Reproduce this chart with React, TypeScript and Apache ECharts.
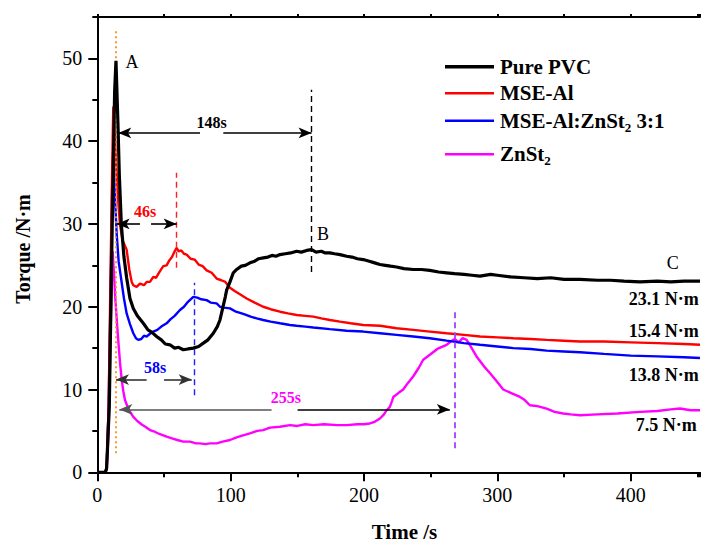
import React, { useEffect, useRef } from "react";
import * as echarts from "echarts";

const SERIF = "'Liberation Serif', 'Times New Roman', Times, serif";

// ---------- data (time /s, torque /N·m) ----------
const seriesNames = ["Pure PVC", "MSE-Al", "MSE-Al:ZnSt2 3:1", "ZnSt2"];

const purePVC: number[][] = [
  [0, 0], [6, 0], [7, 0.5], [9, 8], [11, 28], [13, 46], [14, 49.7], [15.5, 42], [16.5, 36], [18, 30],
  [20, 26], [22, 23.5], [24.5, 21], [27, 19.8], [30, 18.9], [34.5, 18.0], [38, 17.2], [41, 16.9],
  [44.5, 16.4], [48, 16.0], [51, 15.5], [54.5, 15.4], [58, 15.0], [61, 15.1], [64.5, 14.8], [68, 14.9],
  [72, 15.0], [76, 15.2], [79.5, 15.6], [83, 16.0], [87, 16.8], [90, 17.6], [92, 18.4], [94, 19.8],
  [96, 21.2], [97, 22.0], [99.5, 23.0], [102, 24.1], [104.5, 24.5], [108, 24.9], [111, 25.0],
  [114.5, 25.3], [118, 25.5], [121, 25.8], [124.5, 25.9], [128, 26.0], [131, 26.2], [134, 26.1],
  [137, 26.3], [141, 26.4], [145, 26.5], [149.5, 26.7], [153, 26.6], [157, 26.8], [160.7, 26.9],
  [164, 26.6], [168, 26.7], [171, 26.5], [174.4, 26.5], [178, 26.4], [182, 26.3], [187, 26.1],
  [191, 26.0], [195, 25.8], [199.4, 25.7], [204, 25.5], [208, 25.3], [212, 25.1], [216, 25.0],
  [220, 24.9], [224.4, 24.8], [230, 24.6], [237, 24.5], [243, 24.5], [249.4, 24.4], [256, 24.2],
  [262, 24.1], [268, 24.0], [275, 23.9], [281, 23.8], [287, 23.7], [295, 23.9], [300, 23.8],
  [310, 23.6], [320, 23.5], [330, 23.4], [340, 23.5], [350, 23.3], [362, 23.3], [375, 23.2],
  [385, 23.2], [395, 23.1], [407, 23.0], [420, 23.1], [430, 23.0], [440, 23.1], [452, 23.1],
];

const mseAl: number[][] = [
  [0, 0], [6, 0], [7, 0.5], [8.5, 8], [10, 25], [11.5, 40], [12, 44.2], [13, 41], [14.5, 36], [16, 32],
  [17, 29.9], [19, 28], [22, 26.9], [24, 24.5], [25.8, 23], [27, 22.6], [29.5, 22.4], [32, 22.8],
  [35, 22.6], [37, 23.0], [39.5, 23.0], [42, 23.6], [44, 23.5], [47, 24.3], [49.5, 24.9], [52, 25.0],
  [54, 25.6], [56, 26.0], [58, 26.7], [59.5, 27.1], [61, 26.7], [63, 26.8], [65, 26.4], [67, 26.3],
  [70, 25.8], [73, 25.7], [76, 25.1], [79, 24.9], [82, 24.4], [85.8, 24.1], [89.5, 23.4], [93, 23.2],
  [96, 23.0], [99.5, 22.3], [103, 21.9], [107, 21.5], [112, 21.0], [118, 20.5], [124.4, 20.0],
  [130, 19.7], [137, 19.4], [143, 19.2], [149.5, 19.0], [156, 18.9], [162, 18.8], [168, 18.6],
  [174.4, 18.4], [182, 18.2], [190, 18.0], [199.4, 17.8], [212, 17.7], [224.4, 17.4], [237, 17.2],
  [249.4, 17.0], [262, 16.8], [275, 16.6], [287, 16.4], [300, 16.3], [312, 16.2], [325, 16.1],
  [337, 16.0], [350, 15.9], [362, 15.8], [380, 15.8], [400, 15.7], [420, 15.6], [440, 15.5], [452, 15.4],
];

const mseAlZnSt: number[][] = [
  [0, 0], [6, 0], [7, 0.5], [8.5, 8], [10, 22], [11.3, 36], [12, 39.2], [13, 34], [14.5, 28.9],
  [16, 25.5], [18.3, 22.9], [20, 21], [22, 19.2], [24.5, 17.9], [27, 16.8], [29, 16.2], [30.7, 16.0],
  [33, 16.1], [35, 16.5], [37, 16.4], [40, 16.8], [42, 17.0], [45, 17.2], [48, 17.6], [52, 18.0],
  [55, 18.5], [58, 18.9], [62, 19.6], [65, 20.0], [68, 20.6], [72, 21.2], [75, 21.1], [78, 20.9],
  [82, 20.8], [85, 20.5], [89.5, 20.4], [92, 20.0], [95, 19.9], [99.5, 19.8], [104, 19.4], [110, 19.1],
  [115, 18.8], [119.5, 18.6], [124.4, 18.4], [130, 18.2], [137, 18.0], [144.5, 17.8], [149.5, 17.7],
  [156, 17.6], [162, 17.5], [174.4, 17.3], [187, 17.1], [199.4, 17.0], [212, 16.8], [224.4, 16.6],
  [237, 16.4], [249.4, 16.2], [262, 15.9], [275, 15.6], [287, 15.4], [300, 15.2], [312, 15.0],
  [325, 14.9], [337, 14.7], [350, 14.6], [362, 14.5], [380, 14.3], [400, 14.1], [420, 14.0],
  [440, 13.9], [452, 13.8],
];

const znSt2: number[][] = [
  [0, 0], [6, 0], [7, 0.3], [8.5, 5], [10, 17], [11, 24], [11.5, 26.7], [12.5, 24], [13.5, 21],
  [15, 17.5], [15.7, 16], [17, 13.3], [18.3, 11.2], [19.5, 9.8], [20.8, 8.7], [23, 7.8], [25, 7.2],
  [27, 6.7], [30, 6.2], [33, 5.8], [36, 5.5], [39.5, 5.1], [43, 4.9], [47, 4.6], [52, 4.3], [56, 4.1],
  [60, 3.9], [64.5, 3.7], [69.5, 3.7], [74, 3.5], [77, 3.5], [81, 3.4], [84.5, 3.5], [89.5, 3.5],
  [94, 3.7], [99.5, 3.9], [104, 4.2], [108, 4.4], [114.5, 4.7], [120, 5.0], [124.4, 5.1], [129.5, 5.4],
  [137, 5.5], [144.5, 5.7], [150, 5.6], [156, 5.8], [162, 5.7], [170, 5.8], [180, 5.7], [187, 5.7],
  [195, 5.8], [200, 5.8], [204.4, 5.9], [208, 6.1], [212, 6.5], [215, 7.0], [217, 7.5], [219.4, 7.9],
  [221, 8.6], [222, 9.1], [226, 9.6], [229.4, 10.0], [233, 10.8], [237, 11.6], [241, 12.6],
  [244.4, 13.6], [249.4, 14.2], [255, 14.9], [262, 15.4], [266, 15.9], [268, 16.1], [271, 15.7],
  [274, 16.2], [277, 16.0], [280, 15.2], [284.4, 14.0], [290, 12.8], [294.4, 12.0], [300, 10.9],
  [304.4, 10.0], [310, 9.6], [317, 9.1], [320, 8.8], [324.4, 8.1], [330, 8.0], [337, 7.7], [343, 7.3],
  [349.4, 7.1], [355, 7.0], [362, 6.9], [375, 7.0], [390, 7.1], [407, 7.3], [420, 7.4], [430, 7.6],
  [437, 7.7], [445, 7.5], [452, 7.5],
];

// vertical guide lines
const guideTime = [13.8, 160.7, 59.5, 72.7, 268];
const guideLow = [2.3, 24.2, 24.7, 9.3, 2.9];
const guideHigh = [53.3, 46.2, 36.2, 22.9, 19.4];

// time-span arrows
const spanText = ["148s", "46s", "58s", "255s"];
const spanLevel = [41.0, 30.0, 11.2, 7.6];
const spanFrom = [15.7, 14.5, 14.0, 16.5];
const spanGapFrom = [77, 32, 37, 130.7];
const spanGapTo = [94.5, 40.3, 50, 150.2];
const spanTo = [160.7, 59.5, 70.8, 264.4];
const spanTextTime = [85.8, 35.8, 43.3, 141.5];
const spanTextLevel = [42.3, 31.5, 12.6, 9.0];

// point letters
const pointText = ["A", "B", "C"];
const pointTime = [26, 169.3, 431.6];
const pointLevel = [49.6, 28.8, 25.3];

// final torque labels
const finalText = ["23.1 N·m", "15.4 N·m", "13.8 N·m", "7.5 N·m"];
const finalTime = [451, 451, 451, 449.6];
const finalLevel = [20.9, 17.1, 11.8, 5.7];

// ---------- styles ----------
const seriesColors = ["#000000", "#ff0000", "#0000ff", "#ff00ff"];
const seriesWidths = [3.2, 2.4, 2.4, 2.4];
const guideColors = ["#ff8c1a", "#000000", "#ff2020", "#2020ff", "#a040ff"];
const guideTypes: any[] = [[2, 3], [6, 4], [6, 4], [6, 4], [6, 4]];
const guideWidths = [1.8, 1.4, 1.4, 1.4, 1.8];
const spanTextColors = ["#000000", "#ff0000", "#0000ff", "#ff00ff"];
const spanLeftColors = ["#000000", "#000000", "#333333", "#555555"];
const spanRightColors = ["#000000", "#000000", "#333333", "#000000"];

const legendRowsY = [66.7, 93.3, 120.7, 154.3];
const legendParts: [string, boolean][][] = [
  [["Pure PVC", false]],
  [["MSE-Al", false]],
  [["MSE-Al:ZnSt", false], ["2", true], [" 3:1", false]],
  [["ZnSt", false], ["2", true]],
];

function measure(text: string, font: string): number {
  const c = document.createElement("canvas").getContext("2d");
  if (!c) return text.length * 10;
  c.font = font;
  return c.measureText(text).width;
}

export default function App() {
  const ref = useRef<HTMLDivElement>(null);

  useEffect(() => {
    const chart = echarts.init(ref.current as HTMLDivElement, null, { renderer: "svg" });

    const markData: any[] = [];
    guideTime.forEach((t, i) => {
      markData.push([
        { coord: [t, guideLow[i]], symbol: "none", lineStyle: { color: guideColors[i], type: guideTypes[i], width: guideWidths[i] } },
        { coord: [t, guideHigh[i]], symbol: "none" },
      ]);
    });
    spanLevel.forEach((v, i) => {
      markData.push([
        { coord: [spanFrom[i], v], symbol: "arrow", symbolSize: [8, 13], lineStyle: { color: spanLeftColors[i], type: "solid", width: 1.6 } },
        { coord: [spanGapFrom[i], v], symbol: "none" },
      ]);
      markData.push([
        { coord: [spanGapTo[i], v], symbol: "none", lineStyle: { color: spanRightColors[i], type: "solid", width: 1.6 } },
        { coord: [spanTo[i], v], symbol: "arrow", symbolSize: [8, 13] },
      ]);
    });

    const seriesData = [purePVC, mseAl, mseAlZnSt, znSt2];
    const order = [3, 2, 1, 0];
    const series: any[] = order.map((k) => ({
      name: seriesNames[k],
      type: "line",
      data: seriesData[k],
      showSymbol: false,
      symbol: "none",
      xAxisIndex: 0,
      yAxisIndex: 0,
      lineStyle: { color: seriesColors[k], width: seriesWidths[k] },
      itemStyle: { color: seriesColors[k] },
      z: 2 + (3 - k),
      silent: true,
    }));
    series.push({
      name: "annotations",
      type: "line",
      data: [[0, 0]],
      showSymbol: false,
      symbol: "none",
      lineStyle: { width: 0, opacity: 0 },
      xAxisIndex: 0,
      yAxisIndex: 0,
      z: 10,
      silent: true,
      markLine: {
        silent: true,
        animation: false,
        symbol: ["none", "none"],
        symbolSize: [8, 13],
        label: { show: false },
        lineStyle: { type: "solid" },
        emphasis: { disabled: true },
        data: markData,
      },
    });

    const axisLineStyle = { color: "#000", width: 2 };
    const option: any = {
      animation: false,
      backgroundColor: "#ffffff",
      grid: { left: 97.3, right: 2, top: 17, bottom: 71.7, containLabel: false },
      xAxis: [
        {
          type: "value", min: 0, max: 452, interval: 100, position: "bottom",
          axisLine: { show: true, onZero: false, lineStyle: axisLineStyle },
          axisTick: { show: true, inside: false, length: 9, lineStyle: axisLineStyle },
          axisLabel: { show: true, fontFamily: SERIF, fontSize: 20, color: "#000", margin: 13, showMaxLabel: false },
          splitLine: { show: false },
        },
        {
          type: "value", min: 0, max: 452, interval: 50, position: "bottom",
          axisLine: { show: false, onZero: false },
          axisTick: { show: true, inside: false, length: 5, lineStyle: axisLineStyle },
          axisLabel: { show: false },
          splitLine: { show: false },
        },
        {
          type: "value", min: 0, max: 452, interval: 50, position: "top",
          axisLine: { show: true, onZero: false, lineStyle: axisLineStyle },
          axisTick: { show: true, inside: false, length: 3, lineStyle: axisLineStyle },
          axisLabel: { show: false },
          splitLine: { show: false },
        },
      ],
      yAxis: [
        {
          type: "value", min: 0, max: 55, interval: 10, position: "left",
          axisLine: { show: true, onZero: false, lineStyle: axisLineStyle },
          axisTick: { show: true, inside: false, length: 9, lineStyle: axisLineStyle },
          axisLabel: { show: true, fontFamily: SERIF, fontSize: 20, color: "#000", margin: 15, showMaxLabel: false },
          splitLine: { show: false },
        },
        {
          type: "value", min: 0, max: 55, interval: 5, position: "left",
          axisLine: { show: false, onZero: false },
          axisTick: { show: true, inside: false, length: 5, lineStyle: axisLineStyle },
          axisLabel: { show: false },
          splitLine: { show: false },
        },
      ],
      series,
    };
    chart.setOption(option);

    const px = (t: number, v: number): number[] =>
      chart.convertToPixel({ seriesIndex: 0 }, [t, v]) as number[];

    const graphics: any[] = [];

    // axis names
    graphics.push({
      type: "text", x: 404.5, y: 531.5, silent: true,
      style: { text: "Time /s", font: `bold 21px ${SERIF}`, fill: "#000", textAlign: "center", textVerticalAlign: "middle" },
    });
    graphics.push({
      type: "text", x: 23, y: 249, rotation: Math.PI / 2, silent: true,
      style: { text: "Torque /N·m", font: `bold 20px ${SERIF}`, fill: "#000", textAlign: "center", textVerticalAlign: "middle" },
    });

    // legend
    const legendFont = `bold 21px ${SERIF}`;
    const subFont = `bold 13px ${SERIF}`;
    legendRowsY.forEach((y, i) => {
      graphics.push({
        type: "line", silent: true,
        shape: { x1: 445, y1: y, x2: 494, y2: y },
        style: { stroke: seriesColors[i], lineWidth: i === 0 ? 3.4 : 2.4 },
      });
      let x = 500;
      legendParts[i].forEach(([txt, sub]) => {
        const font = sub ? subFont : legendFont;
        graphics.push({
          type: "text", x, y: sub ? y + 6.5 : y, silent: true,
          style: { text: txt, font, fill: "#000", textAlign: "left", textVerticalAlign: "middle" },
        });
        x += measure(txt, font);
      });
    });

    // span labels
    spanText.forEach((txt, i) => {
      const p = px(spanTextTime[i], spanTextLevel[i]);
      graphics.push({
        type: "text", x: p[0], y: p[1], silent: true,
        style: { text: txt, font: `bold 16px ${SERIF}`, fill: spanTextColors[i], textAlign: "center", textVerticalAlign: "middle" },
      });
    });

    // point letters
    pointText.forEach((txt, i) => {
      const p = px(pointTime[i], pointLevel[i]);
      graphics.push({
        type: "text", x: p[0], y: p[1], silent: true,
        style: { text: txt, font: `18px ${SERIF}`, fill: "#000", textAlign: "center", textVerticalAlign: "middle" },
      });
    });

    // final torque values
    finalText.forEach((txt, i) => {
      const p = px(finalTime[i], finalLevel[i]);
      graphics.push({
        type: "text", x: p[0], y: p[1], silent: true,
        style: { text: txt, font: `bold 18px ${SERIF}`, fill: "#000", textAlign: "right", textVerticalAlign: "middle" },
      });
    });

    chart.setOption({ graphic: graphics });

    return () => chart.dispose();
  }, []);

  return (
    <div
      ref={ref}
      style={{ position: "absolute", left: 0, top: 0, width: 702, height: 544, background: "#fff" }}
    />
  );
}
